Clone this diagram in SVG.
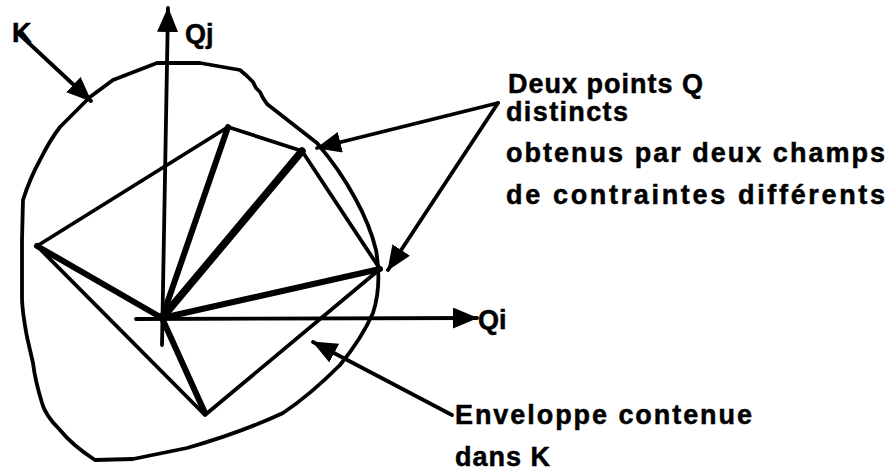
<svg xmlns="http://www.w3.org/2000/svg" width="890" height="475" viewBox="0 0 890 475">
<style>
.bg{fill:#fff}
.thin{fill:none;stroke:#000;stroke-width:3.8;stroke-linecap:round;stroke-linejoin:round}
.thick{fill:none;stroke:#000;stroke-width:6;stroke-linecap:round}
.thicker{fill:none;stroke:#000;stroke-width:7.5;stroke-linecap:round}
.conn{fill:none;stroke:#000;stroke-width:3.8;stroke-linecap:round}
.lbl{font-family:"Liberation Sans",Arial,Helvetica,sans-serif;font-weight:bold;font-size:27px;fill:#000;stroke:#000;stroke-width:0.5}
</style>
<defs>
<marker id="ah" markerUnits="userSpaceOnUse" markerWidth="26" markerHeight="22" refX="24" refY="10.5" orient="auto">
<path d="M0,0 L25,10.5 L0,21 z" fill="#000"/>
</marker>
</defs>
<rect class="bg" x="0" y="0" width="890" height="475"/>

<g id="K-domain">
<path class="thin" d="M90,97 L113,80 L157,63 L200,63 L240,70 L247,76 L253,82 L256,88 L260,92 L263,98 L267,104 L317,143 Q340,170 355,198 Q370,225 376,250 Q382,285 373,313 Q362,338 340,365 Q310,395 283,413 Q240,433 187,448 L133,459 L95,460 Q72,445 60,430 Q45,415 42,403 Q35,380 33,363 L27,337 Q22,310 22,297 L22,240 L23,200 Q30,178 40,160 Q50,140 60,127 Z"/>
</g>

<g id="envelope">
<polyline class="thin" points="37,246 228,127 302,151 380,269 205,415 37,246"/>
</g>

<g id="rays">
<line class="thick" x1="162" y1="318" x2="228" y2="127"/>
<line class="thicker" x1="162" y1="318" x2="302" y2="151"/>
<line class="thick" x1="162" y1="318" x2="380" y2="269"/>
<line class="thick" x1="162" y1="318" x2="37" y2="246"/>
<line class="thick" x1="162" y1="318" x2="205" y2="413"/>
</g>

<g id="connectors">
<line class="conn" x1="162" y1="345" x2="168" y2="8" marker-end="url(#ah)"/>
<line class="conn" x1="136" y1="319" x2="477" y2="318" marker-end="url(#ah)"/>
<line class="conn" x1="18" y1="33" x2="91" y2="101" marker-end="url(#ah)"/>
<line class="conn" x1="498" y1="103" x2="317" y2="148" marker-end="url(#ah)"/>
<line class="conn" x1="498" y1="103" x2="388" y2="270" marker-end="url(#ah)"/>
<line class="conn" x1="452" y1="415" x2="313" y2="342" marker-end="url(#ah)"/>
</g>

<g id="label-K"><text class="lbl" x="12" y="42">K</text></g>
<g id="label-Qj"><text class="lbl" x="185" y="43">Qj</text></g>
<g id="label-Qi"><text class="lbl" x="478" y="329">Qi</text></g>
<g id="label-points">
<text class="lbl" x="508" y="93" textLength="195" lengthAdjust="spacing">Deux points Q</text>
<text class="lbl" x="506" y="121" textLength="122" lengthAdjust="spacing">distincts</text>
<text class="lbl" x="506" y="162" textLength="379" lengthAdjust="spacing">obtenus par deux champs</text>
<text class="lbl" x="506" y="204" textLength="379" lengthAdjust="spacing">de contraintes différents</text>
</g>
<g id="label-envelope">
<text class="lbl" x="455" y="424" textLength="297" lengthAdjust="spacing">Enveloppe contenue</text>
<text class="lbl" x="455" y="466" textLength="95" lengthAdjust="spacing">dans K</text>
</g>
</svg>
